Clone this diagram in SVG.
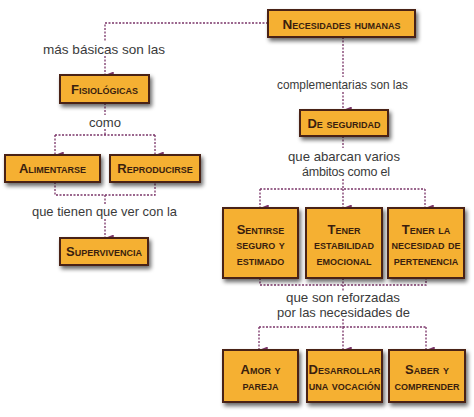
<svg xmlns="http://www.w3.org/2000/svg" width="474" height="417" viewBox="0 0 474 417">
<defs>
<filter id="sh" x="-20%" y="-20%" width="150%" height="160%">
<feGaussianBlur in="SourceAlpha" stdDeviation="2"/>
<feOffset dx="2" dy="3"/>
<feComponentTransfer><feFuncA type="linear" slope="0.6"/></feComponentTransfer>
<feMerge><feMergeNode/><feMergeNode in="SourceGraphic"/></feMerge>
</filter>
<marker id="ar" viewBox="0 0 8 10" refX="4" refY="10" markerWidth="7" markerHeight="9" markerUnits="userSpaceOnUse" orient="auto-start-reverse">
<path d="M0,0 L8,0 L4,10 Z" fill="#7a3468"/>
</marker>
<style>
.box{fill:#f5b030;stroke:#4a2412;stroke-width:2;filter:url(#sh)}
.bt{font-family:"Liberation Sans",Arial,sans-serif;font-weight:bold;font-variant:small-caps;font-size:13px;fill:#3a1e0e;text-anchor:middle}
.lb{font-family:"Liberation Sans",Arial,sans-serif;font-size:13px;fill:#3a3a3a;text-anchor:middle}
.cn{fill:none;stroke:#7a3468;stroke-width:1.3;stroke-dasharray:2 1.5}
.ah{fill:none;stroke:#7a3468;stroke-width:1.3;stroke-dasharray:2 1.5;marker-end:url(#ar)}
</style>
</defs>
<rect width="474" height="417" fill="#ffffff"/>
<g id="connectors">
<path class="cn" d="M268,23 H105 V42"/>
<path class="ah" d="M105,56 V75"/>
<path class="cn" d="M343,37 V77"/>
<path class="ah" d="M343,92 V110"/>
<path class="cn" d="M105,103 V115"/>
<path class="cn" d="M105,129 V135 M55,135 H155"/>
<path class="ah" d="M55,135 V155"/>
<path class="ah" d="M155,135 V155"/>
<path class="cn" d="M55,182 V195 H155 V182 M105,195 V204"/>
<path class="ah" d="M105,219 V238"/>
<path class="cn" d="M343,136 V148"/>
<path class="cn" d="M343,179 V189 M260,189 H425"/>
<path class="ah" d="M260,189 V208"/>
<path class="ah" d="M343,189 V208"/>
<path class="ah" d="M425,189 V208"/>
<path class="cn" d="M260,278 V285 H426 V278 M343,278 V291"/>
<path class="cn" d="M343,319 V327 M259,327 H426"/>
<path class="ah" d="M259,327 V350"/>
<path class="ah" d="M343,327 V350"/>
<path class="ah" d="M426,327 V350"/>
</g>
<g id="labels">
<text class="lb" x="104" y="54" textLength="122" lengthAdjust="spacingAndGlyphs">más básicas son las</text>
<text class="lb" x="342.5" y="89" textLength="131" lengthAdjust="spacingAndGlyphs">complementarias son las</text>
<text class="lb" x="105" y="127" textLength="32" lengthAdjust="spacingAndGlyphs">como</text>
<text class="lb" x="104.5" y="216" textLength="145" lengthAdjust="spacingAndGlyphs">que tienen que ver con la</text>
<text class="lb" x="344" y="161" textLength="112" lengthAdjust="spacingAndGlyphs">que abarcan varios</text>
<text class="lb" x="346" y="176" style="font-size:12.5px" textLength="88" lengthAdjust="spacing">ámbitos como el</text>
<text class="lb" x="343" y="302" textLength="114" lengthAdjust="spacingAndGlyphs">que son reforzadas</text>
<text class="lb" x="343.5" y="317" textLength="133" lengthAdjust="spacingAndGlyphs">por las necesidades de</text>
</g>
<g id="n-necesidades"><rect class="box" x="268" y="10" width="147" height="27"/><text class="bt" x="341.5" y="28.5" style="font-size:13.5px">Necesidades humanas</text></g>
<g id="n-fisiologicas"><rect class="box" x="60" y="75" width="89" height="28"/><text class="bt" x="104.5" y="93.5">Fisiológicas</text></g>
<g id="n-seguridad"><rect class="box" x="300" y="110" width="88" height="26"/><text class="bt" x="344" y="127.5">De seguridad</text></g>
<g id="n-alimentarse"><rect class="box" x="5" y="155" width="95" height="27"/><text class="bt" x="52.5" y="173">Alimentarse</text></g>
<g id="n-reproducirse"><rect class="box" x="110" y="155" width="90" height="27"/><text class="bt" x="155" y="173">Reproducirse</text></g>
<g id="n-supervivencia"><rect class="box" x="60" y="238" width="88" height="27"/><text class="bt" x="104" y="256">Supervivencia</text></g>
<g id="n-sentirse"><rect class="box" x="223" y="208" width="75" height="70"/><text class="bt" x="260.5" y="234">Sentirse</text><text class="bt" x="260.5" y="249">seguro y</text><text class="bt" x="260.5" y="265">estimado</text></g>
<g id="n-estabilidad"><rect class="box" x="306" y="208" width="76" height="70"/><text class="bt" x="344" y="234">Tener</text><text class="bt" x="344" y="249">estabilidad</text><text class="bt" x="344" y="265">emocional</text></g>
<g id="n-pertenencia"><rect class="box" x="388" y="208" width="76" height="70"/><text class="bt" x="426" y="234">Tener la</text><text class="bt" x="426" y="249">necesidad de</text><text class="bt" x="426" y="265">pertenencia</text></g>
<g id="n-amor"><rect class="box" x="223" y="350" width="75" height="52"/><text class="bt" x="260.5" y="374">Amor y</text><text class="bt" x="260.5" y="390">pareja</text></g>
<g id="n-vocacion"><rect class="box" x="307" y="350" width="75" height="52"/><text class="bt" x="344.5" y="374">Desarrollar</text><text class="bt" x="344.5" y="390">una vocación</text></g>
<g id="n-saber"><rect class="box" x="389" y="350" width="76" height="52"/><text class="bt" x="427" y="374">Saber y</text><text class="bt" x="427" y="390">comprender</text></g>
</svg>
